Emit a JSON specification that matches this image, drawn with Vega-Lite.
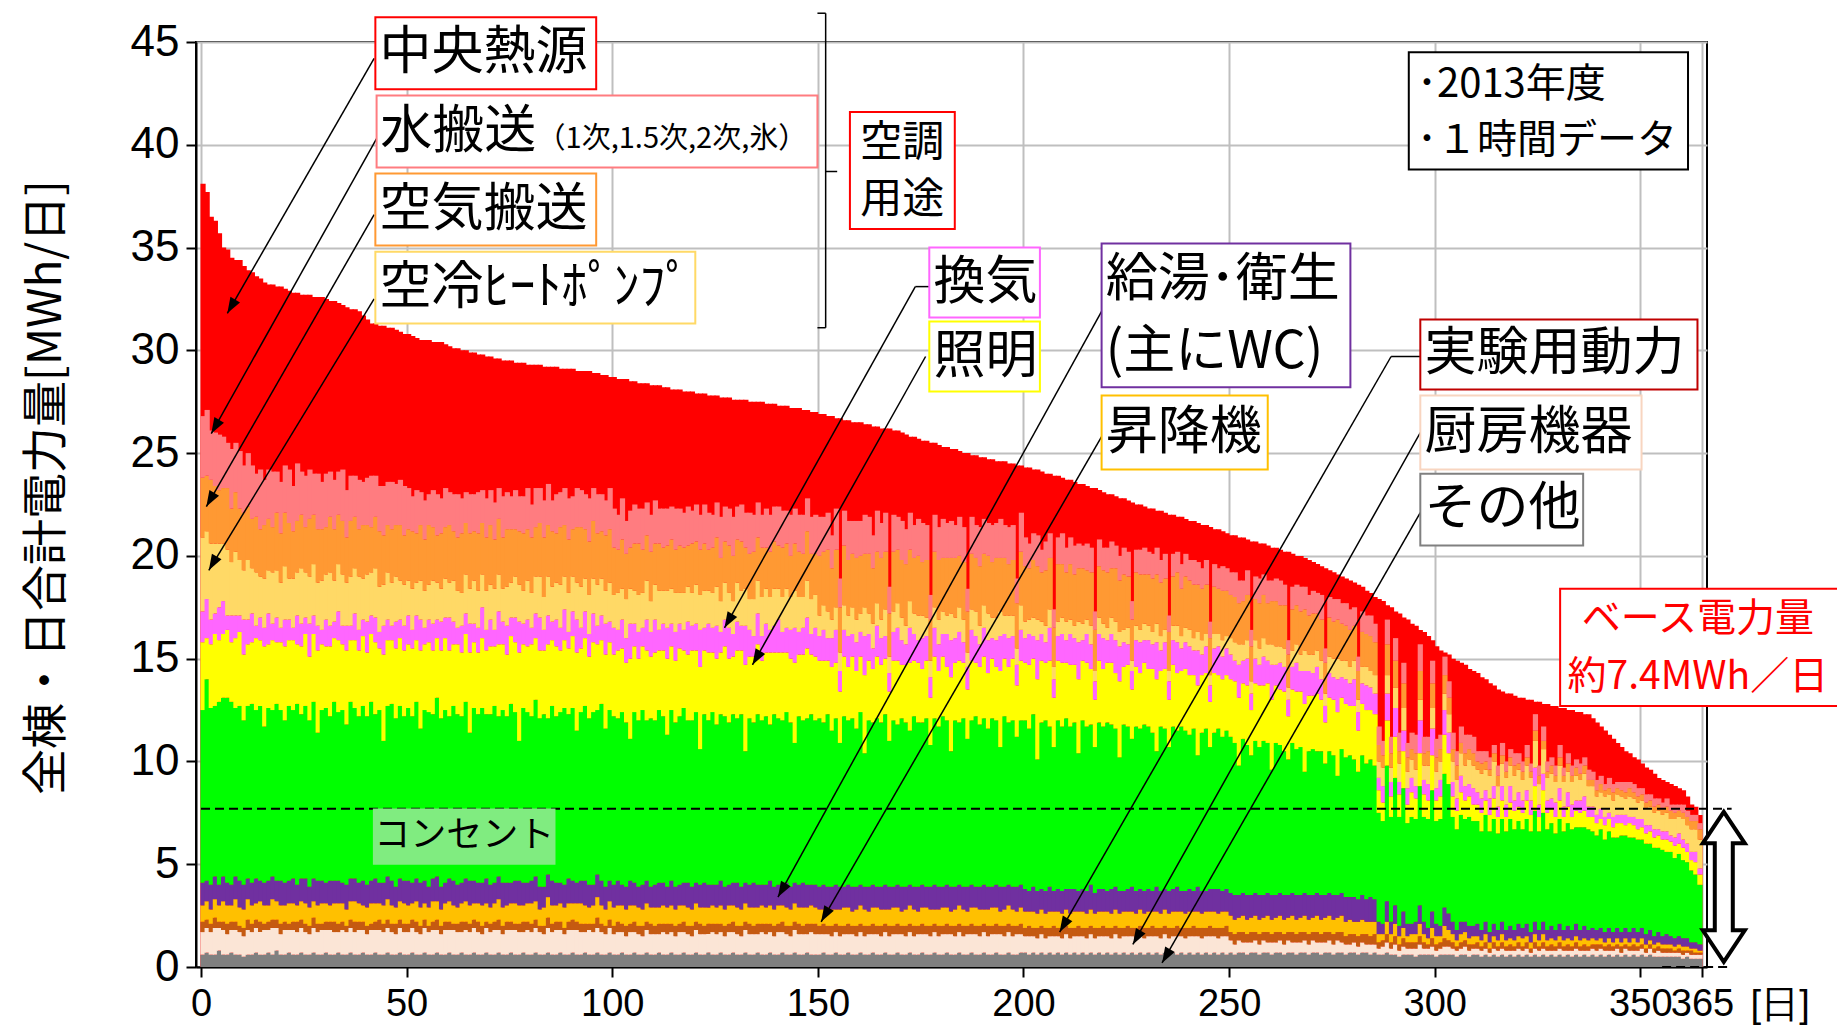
{
"$schema":"https://vega.github.io/schema/vega-lite/v6.json",
"width":1511,"height":925,
"autosize":{"type":"none"},
"padding":{"left":196,"top":42,"right":130,"bottom":59},
"background":"white",
"config":{"view":{"stroke":"#000000","strokeWidth":2},"axis":{"domainColor":"#000000","domainWidth":2,"tickColor":"#000000","tickWidth":2,"gridColor":"#BFBFBF","gridWidth":2,"labelColor":"#000000","titleColor":"#000000"}},
"datasets":{"days":[
{"n":1,"t":38.1,"a":0.6,"b":1.1,"c":0.5,"d":0.8,"e":1.1,"f":8.4,"g":3.3,"h":1.5,"i":3.6,"j":2.9,"k":3.0},
{"n":2,"t":37.7,"a":0.7,"b":1.2,"c":0.4,"d":0.9,"e":1.0,"f":9.8,"g":2.0,"h":1.9,"i":3.3,"j":2.7,"k":3.2},
{"n":3,"t":36.5,"a":0.6,"b":1.1,"c":0.4,"d":0.7,"e":1.2,"f":8.6,"g":3.1,"h":1.2,"i":3.7,"j":3.1,"k":2.4},
{"n":4,"t":36.3,"a":0.6,"b":1.3,"c":0.5,"d":0.9,"e":1.1,"f":8.3,"g":3.5,"h":1.0,"i":3.4,"j":2.8,"k":2.6},
{"n":5,"t":35.7,"a":0.8,"b":1.1,"c":0.3,"d":0.8,"e":1.0,"f":8.9,"g":3.0,"h":1.6,"i":3.1,"j":2.6,"k":2.7},
{"n":6,"t":35.0,"a":0.6,"b":1.2,"c":0.4,"d":1.0,"e":1.2,"f":8.7,"g":3.1,"h":1.6,"i":2.8,"j":2.7,"k":2.5},
{"n":7,"t":34.9,"a":0.6,"b":1.0,"c":0.5,"d":0.9,"e":1.1,"f":9.0,"g":3.3,"h":0.7,"i":3.2,"j":3.0,"k":2.2},
{"n":8,"t":34.5,"a":0.7,"b":1.1,"c":0.4,"d":0.8,"e":1.0,"f":8.9,"g":2.9,"h":1.3,"i":2.6,"j":2.6,"k":2.9},
{"n":9,"t":34.4,"a":0.6,"b":1.2,"c":0.4,"d":1.1,"e":1.1,"f":8.2,"g":3.4,"h":1.1,"i":3.1,"j":2.9,"k":2.4},
{"n":10,"t":34.4,"a":0.6,"b":1.1,"c":0.3,"d":0.9,"e":1.3,"f":8.5,"g":3.6,"h":0.8,"i":2.7,"j":2.5,"k":2.8},
{"n":11,"t":34.1,"a":0.5,"b":1.0,"c":0.4,"d":0.9,"e":1.2,"f":8.0,"g":3.2,"h":1.7,"i":2.4,"j":2.8,"k":2.3},
{"n":12,"t":33.9,"a":0.6,"b":1.2,"c":0.5,"d":1.0,"e":1.0,"f":8.4,"g":3.0,"h":1.2,"i":2.9,"j":2.6,"k":2.6},
{"n":13,"t":33.8,"a":0.6,"b":1.1,"c":0.4,"d":0.9,"e":1.1,"f":8.7,"g":3.0,"h":1.4,"i":2.2,"j":2.4,"k":2.6},
{"n":14,"t":33.6,"a":0.7,"b":1.2,"c":0.4,"d":0.8,"e":1.2,"f":8.2,"g":3.5,"h":0.6,"i":2.6,"j":2.7,"k":2.1},
{"n":15,"t":33.5,"a":0.6,"b":1.1,"c":0.5,"d":1.0,"e":1.0,"f":8.5,"g":3.2,"h":1.1,"i":2.0,"j":2.3,"k":2.9},
{"n":16,"t":33.3,"a":0.6,"b":1.2,"c":0.3,"d":0.9,"e":1.1,"f":7.6,"g":3.9,"h":0.9,"i":2.4,"j":2.6,"k":2.2},
{"n":17,"t":33.2,"a":0.7,"b":1.1,"c":0.4,"d":0.8,"e":1.2,"f":8.4,"g":3.1,"h":1.5,"i":2.1,"j":2.5,"k":2.4},
{"n":18,"t":33.2,"a":0.6,"b":1.3,"c":0.4,"d":1.0,"e":1.1,"f":8.1,"g":3.4,"h":0.8,"i":2.5,"j":2.2,"k":2.7},
{"n":19,"t":33.1,"a":0.8,"b":1.1,"c":0.4,"d":0.9,"e":1.0,"f":8.6,"g":3.0,"h":1.2,"i":2.3,"j":2.8,"k":2.0},
{"n":20,"t":33.1,"a":0.6,"b":1.0,"c":0.5,"d":0.9,"e":1.2,"f":8.3,"g":3.3,"h":0.7,"i":2.2,"j":2.4,"k":2.5},
{"n":21,"t":33.0,"a":0.6,"b":1.2,"c":0.4,"d":0.8,"e":1.1,"f":7.9,"g":3.6,"h":1.3,"i":2.6,"j":2.6,"k":2.3},
{"n":22,"t":32.9,"a":0.7,"b":1.1,"c":0.3,"d":1.0,"e":1.1,"f":8.5,"g":3.2,"h":1.0,"i":2.0,"j":2.7,"k":2.6},
{"n":23,"t":32.8,"a":0.6,"b":1.2,"c":0.4,"d":0.9,"e":1.2,"f":8.2,"g":3.4,"h":0.6,"i":2.4,"j":2.3,"k":2.2},
{"n":24,"t":32.8,"a":0.6,"b":1.1,"c":0.5,"d":0.8,"e":1.0,"f":8.8,"g":2.9,"h":1.4,"i":2.1,"j":2.5,"k":2.8},
{"n":25,"t":32.7,"a":0.7,"b":1.2,"c":0.4,"d":0.9,"e":1.1,"f":8.0,"g":3.3,"h":1.1,"i":2.7,"j":2.6,"k":2.1},
{"n":26,"t":32.7,"a":0.6,"b":1.1,"c":0.4,"d":1.0,"e":1.2,"f":8.4,"g":3.5,"h":0.8,"i":2.2,"j":2.2,"k":2.5},
{"n":27,"t":32.7,"a":0.6,"b":1.0,"c":0.4,"d":0.9,"e":1.0,"f":8.1,"g":3.1,"h":1.6,"i":2.3,"j":2.8,"k":2.4},
{"n":28,"t":32.6,"a":0.7,"b":1.2,"c":0.5,"d":0.8,"e":1.1,"f":8.6,"g":3.3,"h":0.9,"i":2.5,"j":2.4,"k":2.0},
{"n":29,"t":32.6,"a":0.6,"b":1.1,"c":0.4,"d":0.9,"e":1.2,"f":7.2,"g":4.0,"h":1.2,"i":2.1,"j":2.6,"k":2.7},
{"n":30,"t":32.6,"a":0.6,"b":1.2,"c":0.3,"d":1.0,"e":1.1,"f":8.3,"g":3.2,"h":0.7,"i":2.4,"j":2.5,"k":2.3},
{"n":31,"t":32.5,"a":0.7,"b":1.1,"c":0.4,"d":0.9,"e":1.0,"f":8.5,"g":3.0,"h":1.3,"i":2.2,"j":2.3,"k":2.6},
{"n":32,"t":32.4,"a":0.6,"b":1.2,"c":0.4,"d":0.8,"e":1.2,"f":8.0,"g":3.4,"h":1.0,"i":2.6,"j":2.7,"k":2.2},
{"n":33,"t":32.4,"a":0.6,"b":1.1,"c":0.5,"d":0.9,"e":1.1,"f":8.7,"g":3.1,"h":0.8,"i":2.0,"j":2.5,"k":2.4},
{"n":34,"t":32.3,"a":0.7,"b":1.0,"c":0.4,"d":1.0,"e":1.1,"f":8.2,"g":3.5,"h":1.4,"i":2.3,"j":2.4,"k":2.1},
{"n":35,"t":32.2,"a":0.6,"b":1.2,"c":0.4,"d":0.9,"e":1.0,"f":8.4,"g":3.2,"h":0.9,"i":2.5,"j":2.6,"k":2.5},
{"n":36,"t":32.1,"a":0.6,"b":1.1,"c":0.3,"d":0.8,"e":1.2,"f":7.8,"g":3.6,"h":1.2,"i":2.1,"j":2.2,"k":2.3},
{"n":37,"t":32.0,"a":0.7,"b":1.2,"c":0.4,"d":0.9,"e":1.1,"f":8.6,"g":3.0,"h":0.7,"i":2.4,"j":2.7,"k":2.2},
{"n":38,"t":32.0,"a":0.6,"b":1.1,"c":0.5,"d":1.0,"e":1.1,"f":8.3,"g":3.3,"h":1.3,"i":2.2,"j":2.5,"k":2.0},
{"n":39,"t":31.9,"a":0.6,"b":1.2,"c":0.4,"d":0.9,"e":1.0,"f":8.1,"g":3.2,"h":1.0,"i":2.6,"j":2.3,"k":2.4},
{"n":40,"t":31.7,"a":0.7,"b":1.1,"c":0.4,"d":0.8,"e":1.2,"f":8.5,"g":3.4,"h":0.8,"i":2.0,"j":2.6,"k":2.1},
{"n":41,"t":31.5,"a":0.6,"b":1.0,"c":0.4,"d":0.9,"e":1.1,"f":8.2,"g":3.1,"h":1.5,"i":2.3,"j":2.4,"k":2.3},
{"n":42,"t":31.3,"a":0.6,"b":1.2,"c":0.3,"d":1.0,"e":1.1,"f":8.7,"g":3.3,"h":0.9,"i":2.1,"j":2.2,"k":2.5},
{"n":43,"t":31.3,"a":0.7,"b":1.1,"c":0.4,"d":0.9,"e":1.2,"f":8.0,"g":3.5,"h":1.2,"i":2.4,"j":2.5,"k":2.0},
{"n":44,"t":31.2,"a":0.6,"b":1.2,"c":0.5,"d":0.8,"e":1.0,"f":8.4,"g":3.0,"h":0.8,"i":2.2,"j":2.7,"k":2.2},
{"n":45,"t":31.2,"a":0.6,"b":1.1,"c":0.4,"d":0.9,"e":1.1,"f":6.9,"g":4.2,"h":1.4,"i":2.0,"j":2.4,"k":2.4},
{"n":46,"t":31.1,"a":0.7,"b":1.2,"c":0.4,"d":1.0,"e":1.1,"f":8.3,"g":3.2,"h":1.0,"i":2.3,"j":2.3,"k":2.1},
{"n":47,"t":31.1,"a":0.6,"b":1.1,"c":0.4,"d":0.9,"e":1.2,"f":8.6,"g":3.1,"h":0.7,"i":2.1,"j":2.6,"k":2.3},
{"n":48,"t":31.0,"a":0.6,"b":1.0,"c":0.5,"d":0.8,"e":1.0,"f":8.2,"g":3.4,"h":1.3,"i":2.2,"j":2.5,"k":2.0},
{"n":49,"t":30.9,"a":0.7,"b":1.2,"c":0.4,"d":0.9,"e":1.1,"f":8.4,"g":3.3,"h":0.9,"i":1.9,"j":2.7,"k":2.2},
{"n":50,"t":30.8,"a":0.6,"b":1.1,"c":0.4,"d":1.0,"e":1.1,"f":8.0,"g":3.2,"h":1.2,"i":2.0,"j":2.4,"k":2.4},
{"n":51,"t":30.8,"a":0.6,"b":1.1,"c":0.4,"d":0.9,"e":1.2,"f":8.4,"g":3.1,"h":1.4,"i":1.7,"j":2.5,"k":2.0},
{"n":52,"t":30.7,"a":0.7,"b":1.2,"c":0.4,"d":0.8,"e":1.0,"f":8.1,"g":3.3,"h":0.9,"i":2.0,"j":2.8,"k":1.7},
{"n":53,"t":30.6,"a":0.6,"b":1.1,"c":0.5,"d":1.0,"e":1.1,"f":8.6,"g":3.0,"h":1.2,"i":1.6,"j":2.4,"k":2.1},
{"n":54,"t":30.5,"a":0.6,"b":1.0,"c":0.4,"d":0.9,"e":1.2,"f":7.5,"g":3.8,"h":1.5,"i":1.9,"j":2.7,"k":1.6},
{"n":55,"t":30.5,"a":0.7,"b":1.2,"c":0.4,"d":0.8,"e":1.1,"f":8.3,"g":3.2,"h":0.8,"i":1.8,"j":2.5,"k":1.9},
{"n":56,"t":30.5,"a":0.6,"b":1.1,"c":0.3,"d":0.9,"e":1.0,"f":8.5,"g":3.4,"h":1.1,"i":1.7,"j":2.9,"k":1.5},
{"n":57,"t":30.4,"a":0.6,"b":1.2,"c":0.4,"d":1.0,"e":1.1,"f":8.0,"g":3.1,"h":1.3,"i":2.1,"j":2.6,"k":1.8},
{"n":58,"t":30.4,"a":0.7,"b":1.1,"c":0.5,"d":0.9,"e":1.2,"f":8.7,"g":2.9,"h":0.9,"i":1.8,"j":2.3,"k":2.0},
{"n":59,"t":30.4,"a":0.6,"b":1.0,"c":0.4,"d":0.8,"e":1.1,"f":8.2,"g":3.3,"h":1.4,"i":1.6,"j":2.7,"k":1.7},
{"n":60,"t":30.3,"a":0.6,"b":1.2,"c":0.4,"d":0.9,"e":1.0,"f":8.4,"g":3.5,"h":1.0,"i":1.9,"j":2.5,"k":1.9},
{"n":61,"t":30.2,"a":0.7,"b":1.1,"c":0.4,"d":1.0,"e":1.1,"f":7.9,"g":3.2,"h":1.6,"i":1.7,"j":2.8,"k":1.6},
{"n":62,"t":30.1,"a":0.6,"b":1.2,"c":0.3,"d":0.9,"e":1.2,"f":8.5,"g":3.0,"h":1.1,"i":2.0,"j":2.4,"k":1.8},
{"n":63,"t":30.1,"a":0.6,"b":1.1,"c":0.4,"d":0.8,"e":1.1,"f":8.3,"g":3.4,"h":0.8,"i":1.8,"j":2.6,"k":2.1},
{"n":64,"t":30.0,"a":0.7,"b":1.0,"c":0.5,"d":0.9,"e":1.0,"f":8.1,"g":3.1,"h":1.3,"i":1.6,"j":2.9,"k":1.7},
{"n":65,"t":30.0,"a":0.6,"b":1.2,"c":0.4,"d":1.0,"e":1.1,"f":8.6,"g":3.3,"h":1.0,"i":1.9,"j":2.5,"k":1.5},
{"n":66,"t":29.9,"a":0.6,"b":1.1,"c":0.4,"d":0.9,"e":1.2,"f":7.2,"g":3.9,"h":1.4,"i":1.7,"j":2.7,"k":1.9},
{"n":67,"t":29.9,"a":0.7,"b":1.2,"c":0.4,"d":0.8,"e":1.1,"f":8.4,"g":3.2,"h":0.9,"i":2.1,"j":2.4,"k":1.8},
{"n":68,"t":29.8,"a":0.6,"b":1.1,"c":0.5,"d":0.9,"e":1.0,"f":8.2,"g":3.0,"h":1.2,"i":1.8,"j":2.8,"k":2.0},
{"n":69,"t":29.8,"a":0.6,"b":1.0,"c":0.4,"d":1.0,"e":1.1,"f":8.5,"g":3.4,"h":1.5,"i":1.6,"j":2.5,"k":1.6},
{"n":70,"t":29.7,"a":0.7,"b":1.2,"c":0.3,"d":0.9,"e":1.2,"f":8.0,"g":3.1,"h":1.0,"i":1.9,"j":2.6,"k":1.9},
{"n":71,"t":29.7,"a":0.6,"b":1.1,"c":0.4,"d":0.8,"e":1.1,"f":8.3,"g":3.3,"h":1.3,"i":1.7,"j":2.9,"k":1.7},
{"n":72,"t":29.6,"a":0.6,"b":1.2,"c":0.4,"d":0.9,"e":1.0,"f":8.6,"g":2.9,"h":0.8,"i":2.0,"j":2.4,"k":1.8},
{"n":73,"t":29.6,"a":0.7,"b":1.1,"c":0.5,"d":1.0,"e":1.1,"f":7.8,"g":3.5,"h":1.6,"i":1.8,"j":2.7,"k":1.5},
{"n":74,"t":29.5,"a":0.6,"b":1.0,"c":0.4,"d":0.9,"e":1.2,"f":8.4,"g":3.2,"h":1.1,"i":1.6,"j":2.5,"k":2.0},
{"n":75,"t":29.5,"a":0.6,"b":1.2,"c":0.4,"d":0.8,"e":1.1,"f":8.1,"g":3.0,"h":1.4,"i":1.9,"j":2.8,"k":1.8},
{"n":76,"t":29.5,"a":0.7,"b":1.1,"c":0.4,"d":0.9,"e":1.0,"f":8.7,"g":3.3,"h":0.9,"i":1.7,"j":2.6,"k":1.6},
{"n":77,"t":29.4,"a":0.6,"b":1.2,"c":0.3,"d":1.0,"e":1.1,"f":8.2,"g":3.4,"h":1.2,"i":2.0,"j":2.3,"k":1.9},
{"n":78,"t":29.4,"a":0.6,"b":1.1,"c":0.4,"d":0.9,"e":1.2,"f":6.8,"g":4.3,"h":1.5,"i":1.8,"j":2.6,"k":1.7},
{"n":79,"t":29.4,"a":0.7,"b":1.0,"c":0.5,"d":0.8,"e":1.1,"f":8.5,"g":3.1,"h":1.0,"i":1.6,"j":2.8,"k":1.8},
{"n":80,"t":29.3,"a":0.6,"b":1.2,"c":0.4,"d":0.9,"e":1.0,"f":8.3,"g":3.2,"h":1.3,"i":1.9,"j":2.5,"k":2.0},
{"n":81,"t":29.3,"a":0.6,"b":1.1,"c":0.4,"d":1.0,"e":1.1,"f":8.0,"g":3.5,"h":0.8,"i":1.7,"j":2.7,"k":1.6},
{"n":82,"t":29.3,"a":0.7,"b":1.2,"c":0.4,"d":0.9,"e":1.2,"f":8.6,"g":3.0,"h":1.2,"i":1.8,"j":2.4,"k":1.9},
{"n":83,"t":29.3,"a":0.6,"b":1.1,"c":0.3,"d":0.8,"e":1.1,"f":8.2,"g":3.3,"h":1.6,"i":2.0,"j":2.6,"k":1.7},
{"n":84,"t":29.2,"a":0.6,"b":1.0,"c":0.4,"d":0.9,"e":1.0,"f":8.4,"g":3.1,"h":1.0,"i":1.6,"j":2.9,"k":1.8},
{"n":85,"t":29.2,"a":0.7,"b":1.2,"c":0.5,"d":1.0,"e":1.1,"f":7.6,"g":3.6,"h":1.4,"i":1.9,"j":2.5,"k":2.0},
{"n":86,"t":29.2,"a":0.6,"b":1.1,"c":0.4,"d":0.9,"e":1.2,"f":8.5,"g":3.2,"h":0.9,"i":1.7,"j":2.7,"k":1.5},
{"n":87,"t":29.2,"a":0.6,"b":1.2,"c":0.4,"d":0.8,"e":1.1,"f":8.1,"g":3.4,"h":1.3,"i":1.8,"j":2.4,"k":1.9},
{"n":88,"t":29.1,"a":0.7,"b":1.1,"c":0.4,"d":0.9,"e":1.0,"f":8.3,"g":3.0,"h":1.1,"i":2.1,"j":2.8,"k":1.7},
{"n":89,"t":29.1,"a":0.6,"b":1.0,"c":0.3,"d":1.0,"e":1.1,"f":8.6,"g":3.3,"h":1.5,"i":1.6,"j":2.5,"k":1.8},
{"n":90,"t":29.1,"a":0.6,"b":1.2,"c":0.4,"d":0.9,"e":1.2,"f":8.0,"g":3.2,"h":0.8,"i":1.9,"j":2.6,"k":2.0},
{"n":91,"t":29.1,"a":0.7,"b":1.1,"c":0.5,"d":0.8,"e":1.1,"f":8.4,"g":3.5,"h":1.2,"i":1.7,"j":2.3,"k":1.6},
{"n":92,"t":29.0,"a":0.6,"b":1.2,"c":0.4,"d":0.9,"e":1.0,"f":7.4,"g":3.8,"h":1.6,"i":1.8,"j":2.7,"k":1.9},
{"n":93,"t":29.0,"a":0.6,"b":1.1,"c":0.4,"d":1.0,"e":1.1,"f":8.2,"g":3.1,"h":1.0,"i":2.0,"j":2.9,"k":1.8},
{"n":94,"t":29.0,"a":0.7,"b":1.0,"c":0.4,"d":0.9,"e":1.2,"f":8.5,"g":3.3,"h":1.3,"i":1.6,"j":2.4,"k":1.7},
{"n":95,"t":29.0,"a":0.6,"b":1.2,"c":0.3,"d":0.8,"e":1.1,"f":8.1,"g":3.0,"h":1.1,"i":1.9,"j":2.6,"k":2.1},
{"n":96,"t":28.9,"a":0.6,"b":1.1,"c":0.4,"d":0.9,"e":1.0,"f":8.4,"g":3.4,"h":1.4,"i":1.7,"j":2.8,"k":1.6},
{"n":97,"t":28.9,"a":0.7,"b":1.2,"c":0.5,"d":1.0,"e":1.1,"f":8.0,"g":3.2,"h":0.9,"i":2.0,"j":2.5,"k":1.9},
{"n":98,"t":28.8,"a":0.6,"b":1.1,"c":0.4,"d":0.9,"e":1.2,"f":8.6,"g":3.1,"h":1.2,"i":1.8,"j":2.3,"k":1.8},
{"n":99,"t":28.8,"a":0.6,"b":1.0,"c":0.4,"d":0.8,"e":1.1,"f":7.7,"g":3.6,"h":1.5,"i":1.6,"j":2.7,"k":1.7},
{"n":100,"t":28.7,"a":0.7,"b":1.2,"c":0.4,"d":0.9,"e":1.0,"f":8.3,"g":3.3,"h":1.0,"i":1.9,"j":2.6,"k":2.0},
{"n":101,"t":28.7,"a":0.6,"b":1.0,"c":0.4,"d":0.9,"e":1.1,"f":8.2,"g":3.0,"h":1.3,"i":1.6,"j":2.3,"k":1.9},
{"n":102,"t":28.6,"a":0.6,"b":1.1,"c":0.5,"d":0.8,"e":1.2,"f":7.9,"g":3.3,"h":1.0,"i":1.8,"j":2.1,"k":1.7},
{"n":103,"t":28.6,"a":0.7,"b":1.0,"c":0.4,"d":0.9,"e":1.0,"f":8.4,"g":3.1,"h":1.4,"i":1.5,"j":2.4,"k":2.0},
{"n":104,"t":28.6,"a":0.6,"b":0.9,"c":0.5,"d":0.8,"e":1.1,"f":8.0,"g":2.9,"h":1.2,"i":1.9,"j":2.2,"k":1.6},
{"n":105,"t":28.5,"a":0.6,"b":1.1,"c":0.4,"d":0.9,"e":1.2,"f":6.9,"g":3.9,"h":1.7,"i":1.7,"j":2.0,"k":1.8},
{"n":106,"t":28.5,"a":0.7,"b":1.0,"c":0.5,"d":0.8,"e":1.1,"f":8.3,"g":3.2,"h":1.1,"i":1.6,"j":2.3,"k":1.9},
{"n":107,"t":28.4,"a":0.6,"b":1.0,"c":0.4,"d":0.9,"e":1.0,"f":8.1,"g":3.0,"h":1.3,"i":1.8,"j":2.5,"k":1.7},
{"n":108,"t":28.4,"a":0.6,"b":0.9,"c":0.5,"d":0.8,"e":1.2,"f":8.5,"g":3.1,"h":0.9,"i":1.7,"j":2.1,"k":2.0},
{"n":109,"t":28.4,"a":0.7,"b":1.1,"c":0.4,"d":0.9,"e":1.1,"f":7.8,"g":3.4,"h":1.5,"i":1.9,"j":2.2,"k":1.6},
{"n":110,"t":28.3,"a":0.6,"b":1.0,"c":0.5,"d":0.8,"e":1.0,"f":8.2,"g":3.0,"h":1.2,"i":1.5,"j":2.4,"k":1.8},
{"n":111,"t":28.3,"a":0.6,"b":1.0,"c":0.4,"d":0.9,"e":1.1,"f":8.0,"g":3.3,"h":1.6,"i":1.7,"j":2.0,"k":2.1},
{"n":112,"t":28.3,"a":0.7,"b":0.9,"c":0.5,"d":0.8,"e":1.2,"f":8.4,"g":2.9,"h":1.0,"i":1.9,"j":2.3,"k":1.7},
{"n":113,"t":28.2,"a":0.6,"b":1.1,"c":0.4,"d":0.9,"e":1.1,"f":8.1,"g":3.2,"h":1.3,"i":1.6,"j":2.1,"k":1.9},
{"n":114,"t":28.2,"a":0.6,"b":1.0,"c":0.5,"d":0.8,"e":1.0,"f":7.4,"g":3.7,"h":1.5,"i":1.8,"j":2.2,"k":1.8},
{"n":115,"t":28.1,"a":0.7,"b":1.0,"c":0.4,"d":0.9,"e":1.2,"f":8.3,"g":3.1,"h":1.1,"i":1.7,"j":2.4,"k":1.6},
{"n":116,"t":28.1,"a":0.6,"b":0.9,"c":0.5,"d":0.8,"e":1.1,"f":8.0,"g":3.0,"h":1.4,"i":1.9,"j":2.1,"k":2.0},
{"n":117,"t":28.1,"a":0.6,"b":1.1,"c":0.4,"d":0.9,"e":1.0,"f":8.2,"g":3.3,"h":1.2,"i":1.5,"j":2.3,"k":1.8},
{"n":118,"t":28.0,"a":0.7,"b":1.0,"c":0.5,"d":0.8,"e":1.1,"f":8.5,"g":2.8,"h":1.0,"i":1.8,"j":2.2,"k":1.7},
{"n":119,"t":28.0,"a":0.6,"b":1.0,"c":0.4,"d":0.9,"e":1.2,"f":7.9,"g":3.2,"h":1.6,"i":1.7,"j":2.0,"k":1.9},
{"n":120,"t":28.0,"a":0.6,"b":0.9,"c":0.5,"d":0.8,"e":1.1,"f":8.1,"g":3.4,"h":1.2,"i":1.6,"j":2.4,"k":1.6},
{"n":121,"t":27.9,"a":0.7,"b":1.1,"c":0.4,"d":0.9,"e":1.0,"f":8.3,"g":3.0,"h":1.3,"i":1.9,"j":2.1,"k":1.8},
{"n":122,"t":27.9,"a":0.6,"b":1.0,"c":0.5,"d":0.8,"e":1.1,"f":6.6,"g":4.0,"h":1.8,"i":1.7,"j":2.2,"k":1.7},
{"n":123,"t":27.9,"a":0.6,"b":1.0,"c":0.4,"d":0.9,"e":1.2,"f":8.2,"g":3.1,"h":1.1,"i":1.8,"j":2.3,"k":1.9},
{"n":124,"t":27.8,"a":0.7,"b":0.9,"c":0.5,"d":0.8,"e":1.1,"f":8.0,"g":3.3,"h":1.4,"i":1.6,"j":2.0,"k":1.8},
{"n":125,"t":27.8,"a":0.6,"b":1.1,"c":0.4,"d":0.9,"e":1.0,"f":8.4,"g":2.9,"h":1.2,"i":1.7,"j":2.2,"k":1.6},
{"n":126,"t":27.8,"a":0.6,"b":1.0,"c":0.5,"d":0.8,"e":1.1,"f":7.8,"g":3.2,"h":1.6,"i":1.9,"j":2.4,"k":1.7},
{"n":127,"t":27.7,"a":0.7,"b":1.0,"c":0.4,"d":0.9,"e":1.2,"f":8.1,"g":3.0,"h":1.0,"i":1.5,"j":2.1,"k":2.0},
{"n":128,"t":27.7,"a":0.6,"b":0.9,"c":0.5,"d":0.8,"e":1.1,"f":8.3,"g":3.4,"h":1.3,"i":1.8,"j":2.0,"k":1.7},
{"n":129,"t":27.7,"a":0.6,"b":1.1,"c":0.4,"d":0.9,"e":1.0,"f":7.9,"g":3.1,"h":1.5,"i":1.7,"j":2.3,"k":1.8},
{"n":130,"t":27.6,"a":0.7,"b":1.0,"c":0.5,"d":0.8,"e":1.1,"f":8.2,"g":2.8,"h":1.1,"i":1.6,"j":2.2,"k":1.9},
{"n":131,"t":27.6,"a":0.6,"b":1.0,"c":0.4,"d":0.9,"e":1.2,"f":8.0,"g":3.3,"h":1.4,"i":1.9,"j":2.1,"k":1.6},
{"n":132,"t":27.6,"a":0.6,"b":0.9,"c":0.5,"d":0.8,"e":1.1,"f":8.4,"g":3.1,"h":1.2,"i":1.7,"j":2.4,"k":1.8},
{"n":133,"t":27.6,"a":0.7,"b":1.1,"c":0.4,"d":0.9,"e":1.0,"f":6.4,"g":4.2,"h":1.9,"i":1.8,"j":2.0,"k":1.7},
{"n":134,"t":27.5,"a":0.6,"b":1.0,"c":0.5,"d":0.8,"e":1.1,"f":8.1,"g":3.0,"h":1.3,"i":1.5,"j":2.2,"k":2.0},
{"n":135,"t":27.5,"a":0.6,"b":1.0,"c":0.4,"d":0.9,"e":1.2,"f":7.8,"g":3.2,"h":1.0,"i":1.8,"j":2.3,"k":1.8},
{"n":136,"t":27.5,"a":0.7,"b":0.9,"c":0.5,"d":0.8,"e":1.1,"f":8.3,"g":3.4,"h":1.5,"i":1.6,"j":2.1,"k":1.7},
{"n":137,"t":27.5,"a":0.6,"b":1.1,"c":0.4,"d":0.9,"e":1.0,"f":8.0,"g":2.9,"h":1.2,"i":1.9,"j":2.4,"k":1.6},
{"n":138,"t":27.4,"a":0.6,"b":1.0,"c":0.5,"d":0.8,"e":1.1,"f":8.2,"g":3.1,"h":1.4,"i":1.7,"j":2.0,"k":1.9},
{"n":139,"t":27.4,"a":0.7,"b":1.0,"c":0.4,"d":0.9,"e":1.2,"f":7.6,"g":3.5,"h":1.1,"i":1.6,"j":2.2,"k":1.8},
{"n":140,"t":27.4,"a":0.6,"b":0.9,"c":0.5,"d":0.8,"e":1.1,"f":8.4,"g":3.0,"h":1.3,"i":1.8,"j":2.3,"k":1.7},
{"n":141,"t":27.3,"a":0.6,"b":1.1,"c":0.4,"d":0.9,"e":1.0,"f":8.1,"g":3.2,"h":1.6,"i":1.5,"j":2.1,"k":1.9},
{"n":142,"t":27.3,"a":0.7,"b":1.0,"c":0.5,"d":0.8,"e":1.1,"f":7.9,"g":3.3,"h":1.0,"i":1.7,"j":2.4,"k":1.8},
{"n":143,"t":27.3,"a":0.6,"b":1.0,"c":0.4,"d":0.9,"e":1.2,"f":8.3,"g":2.9,"h":1.2,"i":1.9,"j":2.2,"k":1.6},
{"n":144,"t":27.2,"a":0.6,"b":0.9,"c":0.5,"d":0.8,"e":1.1,"f":8.0,"g":3.1,"h":1.4,"i":1.6,"j":2.0,"k":2.0},
{"n":145,"t":27.2,"a":0.7,"b":1.1,"c":0.4,"d":0.9,"e":1.0,"f":6.8,"g":3.9,"h":1.7,"i":1.8,"j":2.3,"k":1.7},
{"n":146,"t":27.2,"a":0.6,"b":1.0,"c":0.5,"d":0.8,"e":1.1,"f":8.2,"g":3.0,"h":1.1,"i":1.7,"j":2.2,"k":1.8},
{"n":147,"t":27.1,"a":0.6,"b":1.0,"c":0.4,"d":0.9,"e":1.2,"f":7.9,"g":3.2,"h":1.3,"i":1.5,"j":2.1,"k":1.9},
{"n":148,"t":27.1,"a":0.7,"b":0.9,"c":0.5,"d":0.8,"e":1.1,"f":8.1,"g":3.4,"h":1.5,"i":1.8,"j":2.4,"k":1.6},
{"n":149,"t":27.0,"a":0.6,"b":1.1,"c":0.4,"d":0.9,"e":1.0,"f":8.3,"g":2.9,"h":1.0,"i":1.7,"j":2.2,"k":1.8},
{"n":150,"t":27.0,"a":0.6,"b":1.0,"c":0.5,"d":0.8,"e":1.1,"f":8.0,"g":3.1,"h":1.4,"i":1.6,"j":2.0,"k":1.9},
{"n":151,"t":26.9,"a":0.6,"b":1.0,"c":0.4,"d":0.8,"e":1.1,"f":8.2,"g":2.8,"h":1.2,"i":1.0,"j":2.9,"k":1.9},
{"n":152,"t":26.9,"a":0.7,"b":0.9,"c":0.5,"d":0.7,"e":1.2,"f":7.9,"g":3.0,"h":1.5,"i":1.2,"j":2.6,"k":1.7},
{"n":153,"t":26.8,"a":0.6,"b":1.0,"c":0.4,"d":0.9,"e":1.0,"f":8.4,"g":2.6,"h":1.1,"i":1.3,"j":3.0,"k":1.8},
{"n":154,"t":26.8,"a":0.6,"b":0.9,"c":0.5,"d":0.8,"e":1.1,"f":7.6,"g":3.1,"h":1.4,"i":0.9,"j":2.5,"k":1.6},
{"n":155,"t":26.7,"a":0.7,"b":1.0,"c":0.4,"d":0.7,"e":1.2,"f":8.1,"g":2.7,"h":1.6,"i":1.1,"j":2.8,"k":2.0},
{"n":156,"t":26.7,"a":0.6,"b":0.9,"c":0.5,"d":0.8,"e":1.1,"f":7.0,"g":2.5,"h":1.0,"i":0.9,"j":2.2,"k":1.4},
{"n":157,"t":26.6,"a":0.6,"b":1.0,"c":0.4,"d":0.9,"e":1.0,"f":8.3,"g":2.9,"h":1.3,"i":1.2,"j":2.9,"k":1.7},
{"n":158,"t":26.6,"a":0.7,"b":0.9,"c":0.5,"d":0.8,"e":1.1,"f":8.0,"g":2.6,"h":1.5,"i":1.0,"j":2.7,"k":1.9},
{"n":159,"t":26.5,"a":0.6,"b":1.0,"c":0.4,"d":0.7,"e":1.2,"f":8.2,"g":3.0,"h":1.1,"i":1.3,"j":2.6,"k":1.6},
{"n":160,"t":26.5,"a":0.6,"b":0.9,"c":0.5,"d":0.8,"e":1.1,"f":7.7,"g":2.8,"h":1.4,"i":1.1,"j":3.0,"k":1.8},
{"n":161,"t":26.5,"a":0.7,"b":1.0,"c":0.4,"d":0.9,"e":1.0,"f":8.4,"g":2.7,"h":1.2,"i":0.9,"j":2.8,"k":1.7},
{"n":162,"t":26.4,"a":0.6,"b":0.9,"c":0.5,"d":0.8,"e":1.1,"f":6.5,"g":3.8,"h":1.9,"i":1.4,"j":2.6,"k":1.9},
{"n":163,"t":26.4,"a":0.6,"b":1.0,"c":0.4,"d":0.7,"e":1.2,"f":8.1,"g":2.9,"h":1.3,"i":1.0,"j":2.9,"k":1.8},
{"n":164,"t":26.3,"a":0.7,"b":0.9,"c":0.5,"d":0.8,"e":1.1,"f":7.9,"g":2.6,"h":1.0,"i":1.2,"j":2.7,"k":1.6},
{"n":165,"t":26.3,"a":0.6,"b":1.0,"c":0.4,"d":0.9,"e":1.0,"f":8.2,"g":3.0,"h":1.5,"i":1.1,"j":2.5,"k":2.0},
{"n":166,"t":26.2,"a":0.6,"b":0.9,"c":0.5,"d":0.8,"e":1.1,"f":8.0,"g":2.8,"h":1.3,"i":0.9,"j":3.0,"k":1.7},
{"n":167,"t":26.2,"a":0.7,"b":1.0,"c":0.4,"d":0.7,"e":1.2,"f":8.3,"g":2.7,"h":1.1,"i":1.3,"j":2.8,"k":1.9},
{"n":168,"t":26.2,"a":0.6,"b":0.9,"c":0.5,"d":0.8,"e":1.1,"f":7.1,"g":2.4,"h":0.9,"i":0.8,"j":2.1,"k":1.3},
{"n":169,"t":26.1,"a":0.6,"b":1.0,"c":0.4,"d":0.9,"e":1.0,"f":8.1,"g":2.9,"h":1.4,"i":1.0,"j":2.9,"k":1.8},
{"n":170,"t":26.1,"a":0.7,"b":0.9,"c":0.5,"d":0.8,"e":1.1,"f":7.8,"g":3.1,"h":1.6,"i":1.2,"j":2.6,"k":1.6},
{"n":171,"t":26.0,"a":0.6,"b":1.0,"c":0.4,"d":0.7,"e":1.2,"f":8.2,"g":2.6,"h":1.2,"i":1.1,"j":2.8,"k":1.9},
{"n":172,"t":25.9,"a":0.6,"b":0.9,"c":0.5,"d":0.8,"e":1.1,"f":8.0,"g":2.8,"h":1.0,"i":0.9,"j":3.0,"k":1.7},
{"n":173,"t":25.8,"a":0.7,"b":1.0,"c":0.4,"d":0.9,"e":1.0,"f":7.5,"g":3.3,"h":1.7,"i":1.3,"j":2.5,"k":1.8},
{"n":174,"t":25.8,"a":0.6,"b":0.9,"c":0.5,"d":0.8,"e":1.1,"f":8.3,"g":2.7,"h":1.3,"i":1.0,"j":2.7,"k":1.6},
{"n":175,"t":25.7,"a":0.6,"b":1.0,"c":0.4,"d":0.7,"e":1.2,"f":8.0,"g":2.9,"h":1.1,"i":1.2,"j":2.9,"k":1.8},
{"n":176,"t":25.6,"a":0.7,"b":0.9,"c":0.5,"d":0.8,"e":1.1,"f":7.9,"g":2.6,"h":1.5,"i":1.1,"j":2.6,"k":1.9},
{"n":177,"t":25.6,"a":0.6,"b":1.0,"c":0.4,"d":0.9,"e":1.0,"f":8.2,"g":2.8,"h":1.2,"i":0.9,"j":2.8,"k":1.7},
{"n":178,"t":25.5,"a":0.6,"b":0.9,"c":0.5,"d":0.8,"e":1.1,"f":6.9,"g":2.3,"h":1.0,"i":0.8,"j":2.0,"k":1.2},
{"n":179,"t":25.5,"a":0.7,"b":1.0,"c":0.4,"d":0.7,"e":1.2,"f":8.1,"g":3.0,"h":1.4,"i":1.0,"j":2.7,"k":1.8},
{"n":180,"t":25.4,"a":0.6,"b":0.9,"c":0.5,"d":0.8,"e":1.1,"f":7.8,"g":2.7,"h":1.3,"i":1.2,"j":2.9,"k":1.6},
{"n":181,"t":25.3,"a":0.6,"b":1.0,"c":0.4,"d":0.9,"e":1.0,"f":8.3,"g":2.9,"h":1.1,"i":1.1,"j":2.6,"k":1.9},
{"n":182,"t":25.3,"a":0.7,"b":0.9,"c":0.5,"d":0.8,"e":1.1,"f":8.0,"g":2.6,"h":1.6,"i":0.9,"j":2.8,"k":1.7},
{"n":183,"t":25.2,"a":0.6,"b":1.0,"c":0.4,"d":0.7,"e":1.2,"f":6.6,"g":3.6,"h":1.8,"i":1.3,"j":2.7,"k":1.8},
{"n":184,"t":25.2,"a":0.6,"b":0.9,"c":0.5,"d":0.8,"e":1.1,"f":8.1,"g":2.8,"h":1.2,"i":1.0,"j":2.9,"k":1.6},
{"n":185,"t":25.1,"a":0.7,"b":1.0,"c":0.4,"d":0.9,"e":1.0,"f":7.9,"g":3.0,"h":1.4,"i":1.2,"j":2.5,"k":1.9},
{"n":186,"t":25.0,"a":0.6,"b":0.9,"c":0.5,"d":0.8,"e":1.1,"f":8.2,"g":2.7,"h":1.0,"i":1.1,"j":2.8,"k":1.7},
{"n":187,"t":25.0,"a":0.6,"b":1.0,"c":0.4,"d":0.7,"e":1.2,"f":7.2,"g":2.4,"h":1.1,"i":0.7,"j":2.0,"k":1.1},
{"n":188,"t":24.9,"a":0.7,"b":0.9,"c":0.5,"d":0.8,"e":1.1,"f":8.0,"g":2.9,"h":1.5,"i":1.0,"j":2.7,"k":1.8},
{"n":189,"t":24.9,"a":0.6,"b":1.0,"c":0.4,"d":0.9,"e":1.0,"f":8.3,"g":2.6,"h":1.3,"i":1.2,"j":2.6,"k":1.6},
{"n":190,"t":24.8,"a":0.6,"b":0.9,"c":0.5,"d":0.8,"e":1.1,"f":7.9,"g":2.8,"h":1.1,"i":0.9,"j":2.9,"k":1.9},
{"n":191,"t":24.8,"a":0.7,"b":1.0,"c":0.4,"d":0.7,"e":1.2,"f":8.1,"g":3.0,"h":1.4,"i":1.1,"j":2.5,"k":1.7},
{"n":192,"t":24.7,"a":0.6,"b":0.9,"c":0.5,"d":0.8,"e":1.1,"f":7.7,"g":2.7,"h":1.6,"i":1.3,"j":2.8,"k":1.6},
{"n":193,"t":24.7,"a":0.6,"b":1.0,"c":0.4,"d":0.9,"e":1.0,"f":8.2,"g":2.9,"h":1.0,"i":1.0,"j":2.7,"k":1.8},
{"n":194,"t":24.6,"a":0.7,"b":0.9,"c":0.5,"d":0.8,"e":1.1,"f":8.0,"g":2.6,"h":1.3,"i":1.1,"j":2.9,"k":1.7},
{"n":195,"t":24.6,"a":0.6,"b":1.0,"c":0.4,"d":0.7,"e":1.2,"f":6.8,"g":3.7,"h":1.7,"i":1.2,"j":2.6,"k":1.9},
{"n":196,"t":24.6,"a":0.6,"b":0.9,"c":0.5,"d":0.8,"e":1.1,"f":8.3,"g":2.8,"h":1.2,"i":0.9,"j":2.8,"k":1.6},
{"n":197,"t":24.5,"a":0.7,"b":1.0,"c":0.4,"d":0.9,"e":1.0,"f":7.9,"g":2.7,"h":1.4,"i":1.1,"j":2.5,"k":1.8},
{"n":198,"t":24.5,"a":0.6,"b":0.9,"c":0.5,"d":0.8,"e":1.1,"f":8.1,"g":3.0,"h":1.1,"i":1.0,"j":2.7,"k":1.7},
{"n":199,"t":24.4,"a":0.6,"b":1.0,"c":0.4,"d":0.7,"e":1.2,"f":7.3,"g":2.5,"h":1.0,"i":0.8,"j":2.2,"k":1.2},
{"n":200,"t":24.4,"a":0.7,"b":0.9,"c":0.5,"d":0.8,"e":1.1,"f":8.0,"g":2.9,"h":1.5,"i":1.2,"j":2.6,"k":1.9},
{"n":201,"t":24.3,"a":0.7,"b":0.8,"c":0.4,"d":0.8,"e":1.1,"f":8.2,"g":2.8,"h":1.2,"i":0.8,"j":2.7,"k":1.4},
{"n":202,"t":24.3,"a":0.6,"b":0.9,"c":0.5,"d":0.7,"e":1.0,"f":7.9,"g":3.1,"h":1.5,"i":0.7,"j":2.5,"k":1.2},
{"n":203,"t":24.2,"a":0.7,"b":0.8,"c":0.4,"d":0.8,"e":1.2,"f":8.4,"g":2.7,"h":1.1,"i":0.9,"j":2.8,"k":1.3},
{"n":204,"t":24.2,"a":0.6,"b":0.8,"c":0.5,"d":0.7,"e":1.1,"f":6.4,"g":3.9,"h":1.9,"i":1.0,"j":2.6,"k":1.5},
{"n":205,"t":24.1,"a":0.7,"b":0.9,"c":0.4,"d":0.8,"e":1.0,"f":8.1,"g":3.0,"h":1.3,"i":0.6,"j":2.4,"k":1.1},
{"n":206,"t":24.0,"a":0.6,"b":0.8,"c":0.5,"d":0.7,"e":1.1,"f":8.3,"g":2.8,"h":1.0,"i":0.8,"j":2.7,"k":1.4},
{"n":207,"t":24.0,"a":0.7,"b":0.8,"c":0.4,"d":0.8,"e":1.2,"f":7.8,"g":3.2,"h":1.6,"i":0.9,"j":2.5,"k":1.2},
{"n":208,"t":23.9,"a":0.6,"b":0.9,"c":0.5,"d":0.7,"e":1.0,"f":7.0,"g":2.4,"h":0.9,"i":0.6,"j":1.9,"k":0.9},
{"n":209,"t":23.9,"a":0.7,"b":0.8,"c":0.4,"d":0.8,"e":1.1,"f":8.2,"g":2.9,"h":1.2,"i":0.7,"j":2.8,"k":1.3},
{"n":210,"t":23.8,"a":0.6,"b":0.8,"c":0.5,"d":0.7,"e":1.1,"f":8.0,"g":3.1,"h":1.4,"i":0.8,"j":2.6,"k":1.5},
{"n":211,"t":23.7,"a":0.7,"b":0.9,"c":0.4,"d":0.8,"e":1.0,"f":8.3,"g":2.7,"h":1.1,"i":0.9,"j":2.4,"k":1.2},
{"n":212,"t":23.7,"a":0.6,"b":0.8,"c":0.5,"d":0.7,"e":1.2,"f":7.9,"g":3.0,"h":1.5,"i":0.7,"j":2.7,"k":1.3},
{"n":213,"t":23.6,"a":0.7,"b":0.8,"c":0.4,"d":0.8,"e":1.1,"f":8.1,"g":2.8,"h":1.3,"i":0.6,"j":2.5,"k":1.4},
{"n":214,"t":23.5,"a":0.6,"b":0.9,"c":0.5,"d":0.7,"e":1.0,"f":6.7,"g":3.6,"h":1.8,"i":1.0,"j":2.6,"k":1.2},
{"n":215,"t":23.5,"a":0.7,"b":0.8,"c":0.4,"d":0.8,"e":1.1,"f":8.2,"g":2.9,"h":1.0,"i":0.8,"j":2.7,"k":1.1},
{"n":216,"t":23.4,"a":0.6,"b":0.8,"c":0.5,"d":0.7,"e":1.1,"f":8.0,"g":3.1,"h":1.4,"i":0.7,"j":2.4,"k":1.3},
{"n":217,"t":23.3,"a":0.7,"b":0.9,"c":0.4,"d":0.8,"e":1.2,"f":7.8,"g":2.7,"h":1.2,"i":0.9,"j":2.6,"k":1.2},
{"n":218,"t":23.3,"a":0.6,"b":0.8,"c":0.5,"d":0.7,"e":1.0,"f":7.1,"g":2.3,"h":0.9,"i":0.5,"j":2.0,"k":0.9},
{"n":219,"t":23.2,"a":0.7,"b":0.8,"c":0.4,"d":0.8,"e":1.1,"f":8.1,"g":3.0,"h":1.3,"i":0.8,"j":2.5,"k":1.3},
{"n":220,"t":23.1,"a":0.6,"b":0.9,"c":0.5,"d":0.7,"e":1.1,"f":7.9,"g":2.8,"h":1.5,"i":0.7,"j":2.6,"k":1.1},
{"n":221,"t":23.0,"a":0.7,"b":0.8,"c":0.4,"d":0.8,"e":1.0,"f":8.2,"g":2.9,"h":1.1,"i":0.6,"j":2.7,"k":1.2},
{"n":222,"t":23.0,"a":0.6,"b":0.8,"c":0.5,"d":0.7,"e":1.2,"f":8.0,"g":3.0,"h":1.4,"i":0.8,"j":2.4,"k":1.3},
{"n":223,"t":22.9,"a":0.7,"b":0.9,"c":0.4,"d":0.8,"e":1.1,"f":7.7,"g":2.7,"h":1.6,"i":0.9,"j":2.6,"k":1.1},
{"n":224,"t":22.8,"a":0.6,"b":0.8,"c":0.5,"d":0.7,"e":1.1,"f":6.5,"g":3.7,"h":1.7,"i":0.7,"j":2.5,"k":1.2},
{"n":225,"t":22.8,"a":0.7,"b":0.8,"c":0.4,"d":0.8,"e":1.0,"f":8.1,"g":2.8,"h":1.2,"i":0.6,"j":2.7,"k":1.3},
{"n":226,"t":22.7,"a":0.6,"b":0.9,"c":0.5,"d":0.7,"e":1.1,"f":7.9,"g":3.0,"h":1.0,"i":0.8,"j":2.5,"k":1.2},
{"n":227,"t":22.6,"a":0.7,"b":0.8,"c":0.4,"d":0.8,"e":1.2,"f":7.2,"g":2.4,"h":0.9,"i":0.5,"j":2.0,"k":0.9},
{"n":228,"t":22.5,"a":0.6,"b":0.8,"c":0.5,"d":0.7,"e":1.1,"f":8.0,"g":2.9,"h":1.3,"i":0.7,"j":2.6,"k":1.1},
{"n":229,"t":22.5,"a":0.7,"b":0.9,"c":0.4,"d":0.8,"e":1.0,"f":7.8,"g":2.7,"h":1.5,"i":0.6,"j":2.7,"k":1.2},
{"n":230,"t":22.4,"a":0.6,"b":0.8,"c":0.5,"d":0.7,"e":1.1,"f":8.1,"g":3.0,"h":1.1,"i":0.8,"j":2.4,"k":1.3},
{"n":231,"t":22.3,"a":0.7,"b":0.8,"c":0.4,"d":0.8,"e":1.1,"f":7.9,"g":2.8,"h":1.4,"i":0.7,"j":2.5,"k":1.1},
{"n":232,"t":22.3,"a":0.6,"b":0.9,"c":0.5,"d":0.7,"e":1.0,"f":7.7,"g":3.1,"h":1.2,"i":0.6,"j":2.6,"k":1.2},
{"n":233,"t":22.2,"a":0.7,"b":0.8,"c":0.4,"d":0.8,"e":1.2,"f":6.6,"g":3.5,"h":1.8,"i":0.9,"j":2.4,"k":1.3},
{"n":234,"t":22.2,"a":0.6,"b":0.8,"c":0.5,"d":0.7,"e":1.1,"f":8.0,"g":2.7,"h":1.0,"i":0.7,"j":2.6,"k":1.1},
{"n":235,"t":22.1,"a":0.7,"b":0.9,"c":0.4,"d":0.8,"e":1.0,"f":7.8,"g":2.9,"h":1.3,"i":0.6,"j":2.5,"k":1.2},
{"n":236,"t":22.0,"a":0.6,"b":0.8,"c":0.5,"d":0.7,"e":1.1,"f":7.0,"g":2.3,"h":0.9,"i":0.5,"j":1.9,"k":0.8},
{"n":237,"t":22.0,"a":0.7,"b":0.8,"c":0.4,"d":0.8,"e":1.1,"f":7.9,"g":3.0,"h":1.2,"i":0.7,"j":2.4,"k":1.1},
{"n":238,"t":21.9,"a":0.6,"b":0.9,"c":0.5,"d":0.7,"e":1.2,"f":7.6,"g":2.8,"h":1.5,"i":0.8,"j":2.6,"k":1.0},
{"n":239,"t":21.9,"a":0.7,"b":0.8,"c":0.4,"d":0.8,"e":1.0,"f":8.0,"g":2.7,"h":1.1,"i":0.6,"j":2.3,"k":1.2},
{"n":240,"t":21.8,"a":0.6,"b":0.8,"c":0.5,"d":0.7,"e":1.1,"f":7.8,"g":3.0,"h":1.3,"i":0.7,"j":2.5,"k":1.1},
{"n":241,"t":21.7,"a":0.7,"b":0.8,"c":0.4,"d":0.8,"e":1.1,"f":7.5,"g":2.9,"h":1.4,"i":0.8,"j":2.4,"k":1.0},
{"n":242,"t":21.7,"a":0.6,"b":0.9,"c":0.5,"d":0.7,"e":1.0,"f":7.9,"g":2.6,"h":1.2,"i":0.6,"j":2.6,"k":1.2},
{"n":243,"t":21.6,"a":0.7,"b":0.8,"c":0.4,"d":0.8,"e":1.2,"f":6.4,"g":3.4,"h":1.7,"i":0.9,"j":2.3,"k":1.1},
{"n":244,"t":21.5,"a":0.6,"b":0.8,"c":0.5,"d":0.7,"e":1.1,"f":7.7,"g":2.8,"h":1.0,"i":0.7,"j":2.5,"k":1.0},
{"n":245,"t":21.5,"a":0.7,"b":0.8,"c":0.4,"d":0.8,"e":1.0,"f":7.9,"g":2.7,"h":1.3,"i":0.6,"j":2.4,"k":1.2},
{"n":246,"t":21.4,"a":0.6,"b":0.9,"c":0.5,"d":0.7,"e":1.1,"f":6.9,"g":2.2,"h":0.8,"i":0.5,"j":1.8,"k":0.8},
{"n":247,"t":21.3,"a":0.7,"b":0.8,"c":0.4,"d":0.8,"e":1.1,"f":7.6,"g":2.9,"h":1.2,"i":0.7,"j":2.3,"k":1.1},
{"n":248,"t":21.3,"a":0.6,"b":0.8,"c":0.5,"d":0.7,"e":1.2,"f":7.8,"g":2.6,"h":1.4,"i":0.6,"j":2.2,"k":1.0},
{"n":249,"t":21.2,"a":0.7,"b":0.8,"c":0.4,"d":0.8,"e":1.0,"f":7.5,"g":2.8,"h":1.1,"i":0.8,"j":2.4,"k":1.2},
{"n":250,"t":21.1,"a":0.6,"b":0.9,"c":0.5,"d":0.7,"e":1.1,"f":7.7,"g":2.7,"h":1.3,"i":0.6,"j":2.2,"k":1.1},
{"n":251,"t":21.0,"a":0.7,"b":0.6,"c":0.4,"d":0.8,"e":1.1,"f":7.6,"g":2.8,"h":1.2,"i":0.8,"j":2.1,"k":1.1},
{"n":252,"t":21.0,"a":0.6,"b":0.5,"c":0.5,"d":0.7,"e":1.2,"f":7.4,"g":3.0,"h":1.0,"i":0.9,"j":2.2,"k":1.2},
{"n":253,"t":20.9,"a":0.7,"b":0.6,"c":0.4,"d":0.7,"e":1.1,"f":6.3,"g":3.3,"h":1.6,"i":1.0,"j":2.0,"k":1.1},
{"n":254,"t":20.9,"a":0.7,"b":0.5,"c":0.5,"d":0.8,"e":1.1,"f":7.5,"g":2.7,"h":1.1,"i":0.8,"j":2.1,"k":1.0},
{"n":255,"t":20.8,"a":0.6,"b":0.6,"c":0.4,"d":0.7,"e":1.2,"f":7.3,"g":2.9,"h":1.3,"i":0.9,"j":2.2,"k":1.2},
{"n":256,"t":20.7,"a":0.7,"b":0.5,"c":0.5,"d":0.7,"e":1.1,"f":6.8,"g":2.2,"h":0.8,"i":0.6,"j":1.7,"k":0.8},
{"n":257,"t":20.7,"a":0.7,"b":0.6,"c":0.4,"d":0.8,"e":1.1,"f":7.4,"g":2.8,"h":1.2,"i":0.9,"j":2.0,"k":1.1},
{"n":258,"t":20.6,"a":0.6,"b":0.5,"c":0.5,"d":0.7,"e":1.2,"f":7.2,"g":3.0,"h":1.0,"i":0.8,"j":2.2,"k":1.2},
{"n":259,"t":20.6,"a":0.7,"b":0.6,"c":0.4,"d":0.7,"e":1.1,"f":7.5,"g":2.7,"h":1.4,"i":0.9,"j":2.1,"k":1.0},
{"n":260,"t":20.5,"a":0.7,"b":0.5,"c":0.5,"d":0.8,"e":1.1,"f":7.3,"g":2.9,"h":1.1,"i":0.8,"j":2.0,"k":1.1},
{"n":261,"t":20.4,"a":0.6,"b":0.6,"c":0.4,"d":0.7,"e":1.2,"f":6.1,"g":3.4,"h":1.7,"i":1.0,"j":2.1,"k":1.0},
{"n":262,"t":20.4,"a":0.7,"b":0.5,"c":0.5,"d":0.7,"e":1.1,"f":7.4,"g":2.8,"h":1.0,"i":0.9,"j":2.2,"k":1.1},
{"n":263,"t":20.3,"a":0.7,"b":0.6,"c":0.4,"d":0.8,"e":1.1,"f":7.2,"g":2.7,"h":1.3,"i":0.8,"j":2.0,"k":1.2},
{"n":264,"t":20.2,"a":0.6,"b":0.5,"c":0.5,"d":0.7,"e":1.2,"f":7.0,"g":2.9,"h":1.2,"i":0.9,"j":2.1,"k":1.0},
{"n":265,"t":20.2,"a":0.7,"b":0.6,"c":0.4,"d":0.7,"e":1.1,"f":6.6,"g":2.1,"h":0.8,"i":0.6,"j":1.6,"k":0.7},
{"n":266,"t":20.1,"a":0.7,"b":0.5,"c":0.5,"d":0.8,"e":1.1,"f":7.3,"g":2.6,"h":1.1,"i":0.8,"j":2.0,"k":1.1},
{"n":267,"t":20.0,"a":0.6,"b":0.6,"c":0.4,"d":0.7,"e":1.2,"f":7.1,"g":2.8,"h":1.4,"i":0.9,"j":1.9,"k":1.0},
{"n":268,"t":20.0,"a":0.7,"b":0.5,"c":0.5,"d":0.7,"e":1.1,"f":7.2,"g":2.7,"h":1.0,"i":0.8,"j":2.1,"k":1.2},
{"n":269,"t":19.9,"a":0.7,"b":0.6,"c":0.4,"d":0.8,"e":1.1,"f":5.9,"g":3.3,"h":1.6,"i":1.0,"j":2.0,"k":1.1},
{"n":270,"t":19.8,"a":0.6,"b":0.5,"c":0.5,"d":0.7,"e":1.2,"f":7.0,"g":2.7,"h":1.2,"i":0.8,"j":1.9,"k":1.0},
{"n":271,"t":19.7,"a":0.7,"b":0.6,"c":0.4,"d":0.7,"e":1.1,"f":7.1,"g":2.6,"h":1.1,"i":0.9,"j":2.0,"k":1.1},
{"n":272,"t":19.6,"a":0.7,"b":0.5,"c":0.5,"d":0.8,"e":1.1,"f":6.9,"g":2.8,"h":1.3,"i":0.8,"j":1.8,"k":1.0},
{"n":273,"t":19.5,"a":0.6,"b":0.6,"c":0.4,"d":0.7,"e":1.2,"f":7.0,"g":2.5,"h":1.0,"i":0.9,"j":2.0,"k":1.2},
{"n":274,"t":19.4,"a":0.7,"b":0.5,"c":0.5,"d":0.7,"e":1.1,"f":6.4,"g":2.0,"h":0.8,"i":0.6,"j":1.5,"k":0.7},
{"n":275,"t":19.3,"a":0.7,"b":0.6,"c":0.4,"d":0.8,"e":1.1,"f":6.9,"g":2.6,"h":1.2,"i":0.8,"j":1.9,"k":1.0},
{"n":276,"t":19.2,"a":0.6,"b":0.5,"c":0.5,"d":0.7,"e":1.2,"f":6.8,"g":2.7,"h":1.1,"i":0.9,"j":1.8,"k":1.1},
{"n":277,"t":19.1,"a":0.7,"b":0.6,"c":0.4,"d":0.7,"e":1.1,"f":5.8,"g":3.1,"h":1.6,"i":1.0,"j":1.9,"k":1.0},
{"n":278,"t":19.0,"a":0.7,"b":0.5,"c":0.5,"d":0.8,"e":1.1,"f":7.0,"g":2.5,"h":1.0,"i":0.8,"j":1.8,"k":1.0},
{"n":279,"t":18.9,"a":0.6,"b":0.5,"c":0.4,"d":0.7,"e":1.2,"f":6.8,"g":2.6,"h":1.2,"i":0.9,"j":1.7,"k":1.1},
{"n":280,"t":18.8,"a":0.7,"b":0.4,"c":0.5,"d":0.7,"e":1.1,"f":6.9,"g":2.4,"h":1.1,"i":0.8,"j":1.8,"k":1.0},
{"n":281,"t":18.7,"a":0.7,"b":0.5,"c":0.4,"d":0.6,"e":1.2,"f":6.7,"g":2.6,"h":1.3,"i":0.9,"j":1.7,"k":0.9},
{"n":282,"t":18.6,"a":0.6,"b":0.4,"c":0.5,"d":0.7,"e":1.1,"f":6.2,"g":2.0,"h":0.9,"i":0.6,"j":1.4,"k":0.7},
{"n":283,"t":18.5,"a":0.7,"b":0.5,"c":0.4,"d":0.7,"e":1.2,"f":6.8,"g":2.5,"h":1.0,"i":0.8,"j":1.7,"k":1.0},
{"n":284,"t":18.3,"a":0.7,"b":0.4,"c":0.5,"d":0.6,"e":1.1,"f":6.6,"g":2.6,"h":1.2,"i":0.9,"j":1.6,"k":0.9},
{"n":285,"t":18.2,"a":0.6,"b":0.5,"c":0.4,"d":0.7,"e":1.2,"f":6.7,"g":2.4,"h":1.1,"i":0.8,"j":1.7,"k":1.0},
{"n":286,"t":18.0,"a":0.7,"b":0.4,"c":0.5,"d":0.6,"e":1.1,"f":6.5,"g":2.5,"h":1.0,"i":0.9,"j":1.6,"k":0.9},
{"n":287,"t":17.9,"a":0.6,"b":0.3,"c":0.3,"d":0.4,"e":0.6,"f":5.3,"g":1.1,"h":0.6,"i":0.8,"j":0.8,"k":0.9},
{"n":288,"t":17.8,"a":0.6,"b":0.4,"c":0.3,"d":0.3,"e":0.5,"f":5.0,"g":0.9,"h":0.8,"i":0.9,"j":0.6,"k":0.7},
{"n":289,"t":17.6,"a":0.7,"b":0.5,"c":0.4,"d":0.6,"e":1.0,"f":6.6,"g":2.2,"h":1.3,"i":0.9,"j":1.5,"k":1.2},
{"n":290,"t":17.5,"a":0.6,"b":0.3,"c":0.3,"d":0.4,"e":0.6,"f":5.1,"g":1.0,"h":0.7,"i":0.7,"j":0.7,"k":0.8},
{"n":291,"t":17.3,"a":0.6,"b":0.5,"c":0.4,"d":0.6,"e":0.9,"f":6.2,"g":2.0,"h":1.4,"i":1.0,"j":1.3,"k":1.1},
{"n":292,"t":17.2,"a":0.5,"b":0.3,"c":0.3,"d":0.4,"e":0.5,"f":5.3,"g":1.1,"h":0.6,"i":0.9,"j":0.6,"k":0.9},
{"n":293,"t":17.0,"a":0.6,"b":0.4,"c":0.4,"d":0.5,"e":0.8,"f":6.0,"g":1.8,"h":1.0,"i":1.1,"j":1.2,"k":1.0},
{"n":294,"t":16.9,"a":0.6,"b":0.3,"c":0.3,"d":0.3,"e":0.6,"f":4.9,"g":0.9,"h":0.8,"i":0.8,"j":0.7,"k":0.7},
{"n":295,"t":16.7,"a":0.6,"b":0.3,"c":0.3,"d":0.4,"e":0.5,"f":5.2,"g":1.2,"h":0.7,"i":0.9,"j":0.5,"k":0.8},
{"n":296,"t":16.6,"a":0.5,"b":0.4,"c":0.3,"d":0.4,"e":0.6,"f":5.0,"g":1.0,"h":0.6,"i":0.8,"j":0.8,"k":0.9},
{"n":297,"t":16.4,"a":0.6,"b":0.5,"c":0.4,"d":0.6,"e":0.9,"f":5.8,"g":1.6,"h":1.6,"i":1.0,"j":1.4,"k":1.3},
{"n":298,"t":16.3,"a":0.6,"b":0.3,"c":0.3,"d":0.4,"e":0.6,"f":5.1,"g":1.1,"h":0.7,"i":0.7,"j":0.6,"k":0.8},
{"n":299,"t":16.1,"a":0.6,"b":0.3,"c":0.2,"d":0.3,"e":0.5,"f":5.3,"g":0.9,"h":0.8,"i":0.9,"j":0.7,"k":0.7},
{"n":300,"t":15.9,"a":0.6,"b":0.4,"c":0.4,"d":0.5,"e":0.8,"f":5.9,"g":1.7,"h":1.3,"i":1.0,"j":1.2,"k":1.1},
{"n":301,"t":15.6,"a":0.5,"b":0.3,"c":0.3,"d":0.4,"e":0.6,"f":5.0,"g":1.0,"h":0.6,"i":0.8,"j":0.7,"k":0.9},
{"n":302,"t":15.4,"a":0.6,"b":0.3,"c":0.3,"d":0.3,"e":0.5,"f":5.2,"g":1.1,"h":0.8,"i":0.9,"j":0.6,"k":0.7},
{"n":303,"t":15.3,"a":0.6,"b":0.4,"c":0.4,"d":0.6,"e":0.9,"f":6.5,"g":1.9,"h":1.2,"i":0.8,"j":0.9,"k":0.9},
{"n":304,"t":15.2,"a":0.6,"b":0.4,"c":0.3,"d":0.5,"e":0.8,"f":6.3,"g":1.5,"h":1.0,"i":0.9,"j":0.8,"k":0.8},
{"n":305,"t":15.0,"a":0.6,"b":0.3,"c":0.3,"d":0.4,"e":0.6,"f":5.1,"g":1.0,"h":0.7,"i":1.0,"j":0.6,"k":0.8},
{"n":306,"t":14.9,"a":0.5,"b":0.3,"c":0.2,"d":0.3,"e":0.5,"f":4.9,"g":0.9,"h":0.6,"i":0.9,"j":0.7,"k":0.7},
{"n":307,"t":14.8,"a":0.6,"b":0.3,"c":0.3,"d":0.4,"e":0.6,"f":5.2,"g":1.1,"h":0.8,"i":1.1,"j":0.5,"k":0.8},
{"n":308,"t":14.7,"a":0.6,"b":0.4,"c":0.3,"d":0.4,"e":0.5,"f":5.0,"g":0.9,"h":0.7,"i":1.0,"j":0.6,"k":0.9},
{"n":309,"t":14.5,"a":0.5,"b":0.3,"c":0.3,"d":0.3,"e":0.6,"f":5.3,"g":1.0,"h":0.6,"i":1.2,"j":0.5,"k":0.7},
{"n":310,"t":14.4,"a":0.6,"b":0.3,"c":0.2,"d":0.4,"e":0.5,"f":5.1,"g":0.8,"h":0.8,"i":1.1,"j":0.6,"k":0.8},
{"n":311,"t":14.3,"a":0.6,"b":0.3,"c":0.3,"d":0.3,"e":0.6,"f":5.0,"g":0.8,"h":0.6,"i":1.1,"j":0.4,"k":0.5},
{"n":312,"t":14.1,"a":0.5,"b":0.3,"c":0.2,"d":0.3,"e":0.5,"f":4.8,"g":0.9,"h":0.7,"i":1.2,"j":0.5,"k":0.6},
{"n":313,"t":14.0,"a":0.6,"b":0.3,"c":0.3,"d":0.4,"e":0.6,"f":5.2,"g":0.7,"h":0.5,"i":1.0,"j":0.4,"k":0.5},
{"n":314,"t":13.8,"a":0.5,"b":0.2,"c":0.2,"d":0.3,"e":0.5,"f":4.9,"g":0.8,"h":0.8,"i":1.1,"j":0.3,"k":0.6},
{"n":315,"t":13.7,"a":0.6,"b":0.3,"c":0.3,"d":0.3,"e":0.6,"f":5.1,"g":1.0,"h":0.6,"i":1.2,"j":0.4,"k":0.4},
{"n":316,"t":13.5,"a":0.5,"b":0.3,"c":0.2,"d":0.3,"e":0.5,"f":4.7,"g":0.8,"h":0.5,"i":1.0,"j":0.5,"k":0.5},
{"n":317,"t":13.4,"a":0.6,"b":0.3,"c":0.3,"d":0.4,"e":0.6,"f":5.0,"g":0.9,"h":0.7,"i":1.1,"j":0.4,"k":0.6},
{"n":318,"t":13.3,"a":0.5,"b":0.3,"c":0.2,"d":0.3,"e":0.5,"f":4.8,"g":0.7,"h":0.6,"i":1.3,"j":0.3,"k":0.5},
{"n":319,"t":13.3,"a":0.6,"b":0.2,"c":0.3,"d":0.3,"e":0.6,"f":5.2,"g":0.8,"h":0.8,"i":1.0,"j":0.4,"k":0.4},
{"n":320,"t":13.2,"a":0.5,"b":0.3,"c":0.2,"d":0.3,"e":0.5,"f":4.9,"g":0.9,"h":0.5,"i":1.2,"j":0.5,"k":0.6},
{"n":321,"t":13.1,"a":0.6,"b":0.3,"c":0.3,"d":0.3,"e":0.6,"f":5.0,"g":0.7,"h":0.7,"i":1.1,"j":0.3,"k":0.5},
{"n":322,"t":13.1,"a":0.5,"b":0.3,"c":0.2,"d":0.4,"e":0.5,"f":4.8,"g":0.8,"h":0.6,"i":1.0,"j":0.4,"k":0.5},
{"n":323,"t":13.0,"a":0.6,"b":0.3,"c":0.3,"d":0.3,"e":0.6,"f":5.1,"g":0.9,"h":0.5,"i":1.2,"j":0.4,"k":0.6},
{"n":324,"t":13.0,"a":0.5,"b":0.2,"c":0.2,"d":0.3,"e":0.5,"f":4.9,"g":0.8,"h":0.7,"i":1.1,"j":0.3,"k":0.4},
{"n":325,"t":12.9,"a":0.6,"b":0.3,"c":0.3,"d":0.4,"e":0.6,"f":5.4,"g":1.2,"h":0.9,"i":1.3,"j":0.5,"k":0.8},
{"n":326,"t":12.9,"a":0.5,"b":0.3,"c":0.2,"d":0.3,"e":0.5,"f":4.8,"g":0.7,"h":0.6,"i":1.0,"j":0.4,"k":0.5},
{"n":327,"t":12.8,"a":0.6,"b":0.3,"c":0.3,"d":0.4,"e":0.6,"f":5.3,"g":1.1,"h":0.8,"i":1.2,"j":0.4,"k":0.7},
{"n":328,"t":12.8,"a":0.5,"b":0.3,"c":0.2,"d":0.3,"e":0.5,"f":4.9,"g":0.8,"h":0.6,"i":1.1,"j":0.3,"k":0.5},
{"n":329,"t":12.7,"a":0.6,"b":0.2,"c":0.3,"d":0.3,"e":0.6,"f":5.0,"g":0.7,"h":0.5,"i":1.2,"j":0.4,"k":0.4},
{"n":330,"t":12.7,"a":0.5,"b":0.3,"c":0.2,"d":0.3,"e":0.5,"f":4.7,"g":0.8,"h":0.7,"i":1.0,"j":0.3,"k":0.5},
{"n":331,"t":12.6,"a":0.6,"b":0.3,"c":0.3,"d":0.3,"e":0.6,"f":5.1,"g":0.9,"h":0.6,"i":1.1,"j":0.4,"k":0.6},
{"n":332,"t":12.6,"a":0.5,"b":0.3,"c":0.2,"d":0.3,"e":0.5,"f":4.8,"g":0.7,"h":0.5,"i":1.2,"j":0.3,"k":0.4},
{"n":333,"t":12.5,"a":0.6,"b":0.2,"c":0.3,"d":0.3,"e":0.6,"f":5.0,"g":0.8,"h":0.7,"i":1.0,"j":0.4,"k":0.5},
{"n":334,"t":12.5,"a":0.5,"b":0.3,"c":0.2,"d":0.3,"e":0.5,"f":4.9,"g":0.6,"h":0.6,"i":1.1,"j":0.3,"k":0.5},
{"n":335,"t":12.4,"a":0.6,"b":0.3,"c":0.3,"d":0.3,"e":0.6,"f":4.7,"g":0.8,"h":0.5,"i":1.2,"j":0.4,"k":0.4},
{"n":336,"t":12.4,"a":0.5,"b":0.3,"c":0.2,"d":0.3,"e":0.5,"f":5.0,"g":0.7,"h":0.6,"i":1.0,"j":0.3,"k":0.5},
{"n":337,"t":12.3,"a":0.6,"b":0.2,"c":0.3,"d":0.3,"e":0.6,"f":4.8,"g":0.8,"h":0.7,"i":1.1,"j":0.4,"k":0.4},
{"n":338,"t":12.3,"a":0.5,"b":0.3,"c":0.2,"d":0.3,"e":0.5,"f":4.9,"g":0.6,"h":0.5,"i":1.0,"j":0.3,"k":0.5},
{"n":339,"t":12.1,"a":0.6,"b":0.3,"c":0.2,"d":0.3,"e":0.5,"f":4.7,"g":0.7,"h":0.5,"i":1.0,"j":0.3,"k":0.4},
{"n":340,"t":11.9,"a":0.5,"b":0.3,"c":0.3,"d":0.2,"e":0.5,"f":4.6,"g":0.6,"h":0.4,"i":0.9,"j":0.3,"k":0.5},
{"n":341,"t":11.7,"a":0.6,"b":0.3,"c":0.2,"d":0.3,"e":0.5,"f":4.8,"g":0.5,"h":0.5,"i":0.8,"j":0.4,"k":0.4},
{"n":342,"t":11.5,"a":0.5,"b":0.3,"c":0.2,"d":0.2,"e":0.5,"f":4.5,"g":0.7,"h":0.4,"i":1.0,"j":0.3,"k":0.3},
{"n":343,"t":11.3,"a":0.6,"b":0.2,"c":0.3,"d":0.3,"e":0.5,"f":4.7,"g":0.6,"h":0.3,"i":0.9,"j":0.3,"k":0.5},
{"n":344,"t":11.1,"a":0.5,"b":0.3,"c":0.2,"d":0.2,"e":0.5,"f":4.6,"g":0.5,"h":0.5,"i":0.8,"j":0.4,"k":0.4},
{"n":345,"t":10.9,"a":0.6,"b":0.3,"c":0.2,"d":0.3,"e":0.5,"f":4.4,"g":0.7,"h":0.4,"i":1.0,"j":0.3,"k":0.3},
{"n":346,"t":10.7,"a":0.5,"b":0.2,"c":0.3,"d":0.2,"e":0.5,"f":4.7,"g":0.6,"h":0.4,"i":0.9,"j":0.3,"k":0.4},
{"n":347,"t":10.5,"a":0.6,"b":0.3,"c":0.2,"d":0.3,"e":0.5,"f":4.5,"g":0.5,"h":0.5,"i":0.8,"j":0.3,"k":0.5},
{"n":348,"t":10.4,"a":0.5,"b":0.3,"c":0.2,"d":0.2,"e":0.5,"f":4.6,"g":0.7,"h":0.3,"i":1.0,"j":0.4,"k":0.3},
{"n":349,"t":10.2,"a":0.6,"b":0.2,"c":0.3,"d":0.3,"e":0.5,"f":4.4,"g":0.6,"h":0.4,"i":0.9,"j":0.3,"k":0.4},
{"n":350,"t":10.1,"a":0.5,"b":0.3,"c":0.2,"d":0.2,"e":0.5,"f":4.5,"g":0.5,"h":0.5,"i":0.8,"j":0.3,"k":0.4},
{"n":351,"t":9.9,"a":0.6,"b":0.3,"c":0.2,"d":0.3,"e":0.5,"f":4.3,"g":0.6,"h":0.4,"i":0.9,"j":0.3,"k":0.3},
{"n":352,"t":9.7,"a":0.5,"b":0.2,"c":0.2,"d":0.2,"e":0.5,"f":4.4,"g":0.5,"h":0.4,"i":0.8,"j":0.3,"k":0.4},
{"n":353,"t":9.6,"a":0.6,"b":0.3,"c":0.2,"d":0.2,"e":0.5,"f":4.2,"g":0.6,"h":0.3,"i":0.9,"j":0.3,"k":0.3},
{"n":354,"t":9.4,"a":0.5,"b":0.2,"c":0.2,"d":0.2,"e":0.4,"f":4.3,"g":0.5,"h":0.4,"i":0.8,"j":0.3,"k":0.4},
{"n":355,"t":9.2,"a":0.5,"b":0.3,"c":0.2,"d":0.2,"e":0.5,"f":4.1,"g":0.6,"h":0.3,"i":0.9,"j":0.3,"k":0.3},
{"n":356,"t":9.1,"a":0.5,"b":0.2,"c":0.2,"d":0.2,"e":0.4,"f":4.2,"g":0.5,"h":0.4,"i":0.8,"j":0.3,"k":0.3},
{"n":357,"t":9.0,"a":0.5,"b":0.2,"c":0.2,"d":0.2,"e":0.5,"f":4.0,"g":0.6,"h":0.4,"i":0.9,"j":0.3,"k":0.4},
{"n":358,"t":8.9,"a":0.5,"b":0.2,"c":0.2,"d":0.2,"e":0.4,"f":4.1,"g":0.5,"h":0.3,"i":0.8,"j":0.4,"k":0.3},
{"n":359,"t":8.8,"a":0.5,"b":0.2,"c":0.1,"d":0.2,"e":0.4,"f":3.9,"g":0.6,"h":0.4,"i":0.9,"j":0.3,"k":0.4},
{"n":360,"t":8.7,"a":0.5,"b":0.2,"c":0.2,"d":0.2,"e":0.4,"f":4.0,"g":0.5,"h":0.5,"i":0.8,"j":0.3,"k":0.3},
{"n":361,"t":8.6,"a":0.4,"b":0.2,"c":0.2,"d":0.2,"e":0.4,"f":3.8,"g":0.6,"h":0.4,"i":1.0,"j":0.3,"k":0.4},
{"n":362,"t":8.3,"a":0.5,"b":0.2,"c":0.1,"d":0.2,"e":0.4,"f":3.7,"g":0.5,"h":0.4,"i":0.9,"j":0.4,"k":0.3},
{"n":363,"t":7.9,"a":0.4,"b":0.2,"c":0.2,"d":0.1,"e":0.3,"f":3.5,"g":0.5,"h":0.4,"i":1.1,"j":0.4,"k":0.3},
{"n":364,"t":7.8,"a":0.4,"b":0.2,"c":0.1,"d":0.2,"e":0.3,"f":3.3,"g":0.6,"h":0.5,"i":1.1,"j":0.4,"k":0.3},
{"n":365,"t":7.4,"a":0.4,"b":0.2,"c":0.1,"d":0.1,"e":0.3,"f":2.9,"g":0.5,"h":0.3,"i":1.4,"j":0.5,"k":0.3}
]},
"layer":[
{"data":{"name":"days"},
 "mark":{"type":"bar","color":"#FF0000","width":5.2,"xOffset":-2.07},
 "encoding":{
  "x":{"field":"n","type":"quantitative","scale":{"domain":[0,365],"nice":false,"zero":false},
       "axis":{"values":[0,50,100,150,200,250,300,350,365],"grid":true,"title":null,"labelFont":"Liberation Sans","labelFontSize":38,"labelPadding":8,"tickSize":10,"labelFlush":false,"labelOverlap":false}},
  "y":{"field":"t","type":"quantitative","scale":{"domain":[0,45],"nice":false},
       "axis":{"values":[0,5,10,15,20,25,30,35,40,45],"grid":true,"title":"全棟・日合計電力量[MWh/日]","titleFont":"Noto Sans CJK JP","titleFontSize":46,"titleFontWeight":"normal","titleX":-150,"titleY":445,"titleAngle":-90,"titleAlign":"center","titleBaseline":"middle","labelFont":"Liberation Sans","labelFontSize":44,"labelPadding":7,"tickSize":10,"labelFlush":false,"labelOverlap":false}}
 }},
{"data":{"name":"days"},
 "transform":[{"fold":["a","b","c","d","e","f","g","h","i","j","k"],"as":["key","val"]}],
 "mark":{"type":"bar","width":5.2,"xOffset":-2.07},
 "encoding":{
  "x":{"field":"n","type":"quantitative","scale":{"domain":[0,365],"nice":false,"zero":false}},
  "y":{"field":"val","type":"quantitative","stack":"zero","scale":{"domain":[0,45],"nice":false}},
  "color":{"field":"key","type":"nominal","scale":{"domain":["a","b","c","d","e","f","g","h","i","j","k"],"range":["#808080","#FBE5D6","#C55A11","#FFC000","#7030A0","#00FF00","#FFFF00","#FF66FF","#FFD966","#FF9933","#FF7C80"]},"legend":null},
  "order":{"field":"key","type":"ordinal","sort":"ascending"}
 }},
{"data":{"values":[{"x":0,"x2":372.2,"y":7.7},{"x":355.3,"x2":372.2,"y":0}]},
 "mark":{"type":"rule","color":"#000000","strokeWidth":2,"strokeDash":[9,5]},
 "encoding":{
  "x":{"field":"x","type":"quantitative","scale":{"domain":[0,365],"nice":false,"zero":false}},
  "x2":{"field":"x2"},
  "y":{"field":"y","type":"quantitative","scale":{"domain":[0,45],"nice":false}}
 }},
{"data":{"values":[
  {"x":42.1,"y":44.2,"x2":6.4,"y2":31.8},
  {"x":42.7,"y":40.3,"x2":2.5,"y2":25.95},
  {"x":42.1,"y":36.6,"x2":1.3,"y2":22.4},
  {"x":42.1,"y":32.5,"x2":1.9,"y2":19.3},
  {"x":177.1,"y":33.1,"x2":173.7,"y2":33.1},
  {"x":173.7,"y":33.1,"x2":127.3,"y2":16.5},
  {"x":176.2,"y":29.7,"x2":134.1,"y2":14.7},
  {"x":219.0,"y":31.9,"x2":140.3,"y2":3.4},
  {"x":219.0,"y":25.8,"x2":150.8,"y2":2.2},
  {"x":296.5,"y":29.7,"x2":289.4,"y2":29.7},
  {"x":289.4,"y":29.7,"x2":208.8,"y2":1.7},
  {"x":296.5,"y":26.0,"x2":226.6,"y2":1.1},
  {"x":296.5,"y":22.1,"x2":233.7,"y2":0.2},
  {"x":149.9,"y":46.4,"x2":151.9,"y2":46.4},
  {"x":151.9,"y":46.4,"x2":151.9,"y2":31.1},
  {"x":149.9,"y":31.1,"x2":151.9,"y2":31.1},
  {"x":151.9,"y":38.7,"x2":154.7,"y2":38.7}
 ]},
 "mark":{"type":"rule","color":"#000000","strokeWidth":1.5},
 "encoding":{
  "x":{"field":"x","type":"quantitative","scale":{"domain":[0,365],"nice":false,"zero":false}},
  "y":{"field":"y","type":"quantitative","scale":{"domain":[0,45],"nice":false}},
  "x2":{"field":"x2"},
  "y2":{"field":"y2"}
 }},
{"data":{"values":[
  {"x":6.4,"y":31.8},{"x":2.5,"y":25.95},{"x":1.3,"y":22.4},{"x":1.9,"y":19.3},
  {"x":127.3,"y":16.5},{"x":134.1,"y":14.7},{"x":140.3,"y":3.4},{"x":150.8,"y":2.2},
  {"x":208.8,"y":1.7},{"x":226.6,"y":1.1},{"x":233.7,"y":0.2}
 ]},
 "mark":{"type":"point","shape":"M0,0L-0.35,-1L0.35,-1Z","size":1000,"angle":30,"filled":true,"color":"#000000","opacity":1,"strokeWidth":0},
 "encoding":{
  "x":{"field":"x","type":"quantitative","scale":{"domain":[0,365],"nice":false,"zero":false}},
  "y":{"field":"y","type":"quantitative","scale":{"domain":[0,45],"nice":false}}
 }},
{"data":{"values":[{"x":370.3,"y":3.9}]},
 "mark":{"type":"point","shape":"M0,-1L0.28,-0.58L0.12,-0.58L0.12,0.58L0.28,0.58L0,1L-0.28,0.58L-0.12,0.58L-0.12,-0.58L-0.28,-0.58Z","size":22500,"filled":true,"fill":"#FFFFFF","stroke":"#000000","strokeWidth":4,"opacity":1},
 "encoding":{
  "x":{"field":"x","type":"quantitative","scale":{"domain":[0,365],"nice":false,"zero":false}},
  "y":{"field":"y","type":"quantitative","scale":{"domain":[0,45],"nice":false}}
 }},
{"data":{"values":[
  {"lab":"中央熱源","x":42.4,"x2":96.1,"y":42.7,"y2":46.2},
  {"lab":"水搬送","x":42.7,"x2":149.9,"y":38.9,"y2":42.4},
  {"lab":"空気搬送","x":42.4,"x2":96.1,"y":35.1,"y2":38.6},
  {"lab":"空冷ヒートポンプ","x":42.4,"x2":120.2,"y":31.3,"y2":34.8},
  {"lab":"空調用途","x":157.8,"x2":183.3,"y":35.9,"y2":41.6},
  {"lab":"換気","x":177.1,"x2":204.0,"y":31.6,"y2":35.0},
  {"lab":"照明","x":177.1,"x2":204.0,"y":28.0,"y2":31.4},
  {"lab":"給湯・衛生","x":219.0,"x2":279.5,"y":28.2,"y2":35.2},
  {"lab":"昇降機","x":219.0,"x2":259.4,"y":24.2,"y2":27.8},
  {"lab":"実験用動力","x":296.5,"x2":363.9,"y":28.1,"y2":31.5},
  {"lab":"厨房機器","x":296.5,"x2":350.3,"y":24.2,"y2":27.8},
  {"lab":"その他","x":296.5,"x2":336.1,"y":20.5,"y2":24.0},
  {"lab":"注記","x":293.7,"x2":361.6,"y":38.8,"y2":44.5},
  {"lab":"ベース電力量","x":330.5,"x2":400,"y":12.7,"y2":18.4}
 ]},
 "mark":{"type":"rect","fill":"#FFFFFF","strokeWidth":2},
 "encoding":{
  "x":{"field":"x","type":"quantitative","scale":{"domain":[0,365],"nice":false,"zero":false}},
  "x2":{"field":"x2"},
  "y":{"field":"y","type":"quantitative","scale":{"domain":[0,45],"nice":false}},
  "y2":{"field":"y2"},
  "stroke":{"field":"lab","type":"nominal","legend":null,"scale":{"domain":["中央熱源","水搬送","空気搬送","空冷ヒートポンプ","空調用途","換気","照明","給湯・衛生","昇降機","実験用動力","厨房機器","その他","注記","ベース電力量"],"range":["#FF0000","#FF7C80","#FF9933","#FFD966","#FF0000","#FF66FF","#FFFF00","#7030A0","#FFC000","#C00000","#F8D5C0","#808080","#000000","#FF0000"]}}
 }},
{"data":{"values":[{"x":41.8,"x2":86.2,"y":4.98,"y2":7.71}]},
 "mark":{"type":"rect","fill":"#80EC80"},
 "encoding":{
  "x":{"field":"x","type":"quantitative","scale":{"domain":[0,365],"nice":false,"zero":false}},
  "x2":{"field":"x2"},
  "y":{"field":"y","type":"quantitative","scale":{"domain":[0,45],"nice":false}},
  "y2":{"field":"y2"}
 }},
{"data":{"values":[
  {"txt":"中央熱源","x":43.4,"y":44.45},
  {"txt":"水搬送","x":43.6,"y":40.6},
  {"txt":"空気搬送","x":43.4,"y":36.85},
  {"txt":"空冷ﾋｰﾄﾎﾟﾝﾌﾟ","x":43.4,"y":33.05},
  {"txt":"換気","x":178.1,"y":33.3},
  {"txt":"照明","x":178.1,"y":29.7},
  {"txt":"給湯･衛生","x":220.0,"y":33.4},
  {"txt":"(主にWC)","x":220.0,"y":29.9},
  {"txt":"昇降機","x":220.0,"y":26.0},
  {"txt":"実験用動力","x":297.5,"y":29.8},
  {"txt":"厨房機器","x":297.5,"y":26.0},
  {"txt":"その他","x":297.5,"y":22.3}
 ]},
 "mark":{"type":"text","align":"left","baseline":"middle","font":"Noto Sans CJK JP","fontSize":52,"color":"#000000"},
 "encoding":{
  "x":{"field":"x","type":"quantitative","scale":{"domain":[0,365],"nice":false,"zero":false}},
  "y":{"field":"y","type":"quantitative","scale":{"domain":[0,45],"nice":false}},
  "text":{"field":"txt"}
 }},
{"data":{"values":[{"txt":"（1次,1.5次,2次,氷）","x":81.6,"y":40.3}]},
 "mark":{"type":"text","align":"left","baseline":"middle","font":"Noto Sans CJK JP","fontSize":29,"color":"#000000"},
 "encoding":{
  "x":{"field":"x","type":"quantitative","scale":{"domain":[0,365],"nice":false,"zero":false}},
  "y":{"field":"y","type":"quantitative","scale":{"domain":[0,45],"nice":false}},
  "text":{"field":"txt"}
 }},
{"data":{"values":[{"txt":"空調","x":170.55,"y":40.1},{"txt":"用途","x":170.55,"y":37.3}]},
 "mark":{"type":"text","align":"center","baseline":"middle","font":"Noto Sans CJK JP","fontSize":42,"color":"#000000"},
 "encoding":{
  "x":{"field":"x","type":"quantitative","scale":{"domain":[0,365],"nice":false,"zero":false}},
  "y":{"field":"y","type":"quantitative","scale":{"domain":[0,45],"nice":false}},
  "text":{"field":"txt"}
 }},
{"data":{"values":[{"txt":"･2013年度","x":295.7,"y":42.9},{"txt":"･１時間データ","x":295.7,"y":40.2}]},
 "mark":{"type":"text","align":"left","baseline":"middle","font":"Noto Sans CJK JP","fontSize":40,"color":"#000000"},
 "encoding":{
  "x":{"field":"x","type":"quantitative","scale":{"domain":[0,365],"nice":false,"zero":false}},
  "y":{"field":"y","type":"quantitative","scale":{"domain":[0,45],"nice":false}},
  "text":{"field":"txt"}
 }},
{"data":{"values":[{"txt":"ベース電力量","x":364,"y":16.95},{"txt":"約7.4MWh／日","x":364,"y":14.1}]},
 "mark":{"type":"text","align":"center","baseline":"middle","font":"Noto Sans CJK JP","fontSize":39,"color":"#FF0000"},
 "encoding":{
  "x":{"field":"x","type":"quantitative","scale":{"domain":[0,365],"nice":false,"zero":false}},
  "y":{"field":"y","type":"quantitative","scale":{"domain":[0,45],"nice":false}},
  "text":{"field":"txt"}
 }},
{"data":{"values":[{"txt":"コンセント","x":64,"y":6.35}]},
 "mark":{"type":"text","align":"center","baseline":"middle","font":"Noto Sans CJK JP","fontSize":36,"color":"#000000"},
 "encoding":{
  "x":{"field":"x","type":"quantitative","scale":{"domain":[0,365],"nice":false,"zero":false}},
  "y":{"field":"y","type":"quantitative","scale":{"domain":[0,45],"nice":false}},
  "text":{"field":"txt"}
 }},
{"data":{"values":[{"txt":"[日]","x":384,"y":-1.9}]},
 "mark":{"type":"text","align":"center","baseline":"middle","font":"Liberation Sans","fontSize":38,"color":"#000000"},
 "encoding":{
  "x":{"field":"x","type":"quantitative","scale":{"domain":[0,365],"nice":false,"zero":false}},
  "y":{"field":"y","type":"quantitative","scale":{"domain":[0,45],"nice":false}},
  "text":{"field":"txt"}
 }}
]
}
